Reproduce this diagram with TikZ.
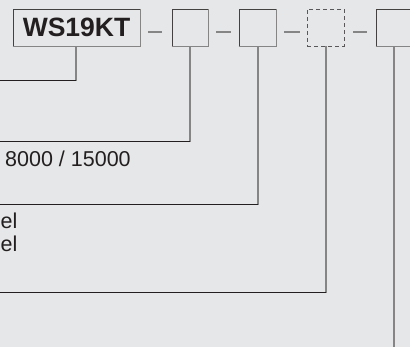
\documentclass[tikz,border=0pt]{standalone}
\usepackage{fontspec}
\setmainfont{Liberation Sans}
\definecolor{bg}{HTML}{E6E7E8}
\definecolor{ink}{HTML}{231F20}
\definecolor{vline}{HTML}{858585}
\tikzset{
  x=1pt, y=-1pt,
  codebox/.style={rectangle, draw=ink!85, line width=0.9pt, inner sep=0pt, minimum height=37pt},
  dashbox/.style={codebox, dashed, dash pattern=on 4pt off 3pt, draw=ink!75},
  shade/.style={draw=vline, line width=1.6pt},
  vconn/.style={draw=vline, line width=1.8pt},
  hconn/.style={draw=ink, line width=1pt},
  sep/.style={draw=vline, line width=1.6pt},
  lbl/.style={font=\fontsize{21.5}{23}\selectfont, text=ink, inner sep=0pt}
}
\begin{document}
\begin{tikzpicture}
\fill[bg] (0,0) rectangle (410,347);
\clip (0,0) rectangle (410,347);
\useasboundingbox (0,0) rectangle (410,347);

\node[codebox, minimum width=127pt, font=\fontsize{26.5}{28}\selectfont\bfseries, text=ink] (b1) at (76.5,27.5) {WS19KT};
\node[codebox, minimum width=36pt] (b2) at (190,27.5) {};
\node[codebox, minimum width=37pt] (b3) at (257.5,27.5) {};
\node[dashbox, minimum width=37pt] (b4) at (325.5,27.5) {};
\node[codebox, minimum width=37pt] (b5) at (394.5,27.5) {};

\foreach \n in {b1,b2,b3,b5}{
  \draw[shade] (\n.south west) -- (\n.south east) -- (\n.north east);
}

% separators
\coordinate (s1a) at (148,32); \coordinate (s1b) at (162,32);
\coordinate (s2a) at (216,32); \coordinate (s2b) at (231,32);
\coordinate (s3a) at (284,32); \coordinate (s3b) at (300,32);
\coordinate (s4a) at (353,32); \coordinate (s4b) at (367,32);
\draw[sep] (s1a) -- (s1b);
\draw[sep] (s2a) -- (s2b);
\draw[sep] (s3a) -- (s3b);
\draw[sep] (s4a) -- (s4b);

% connectors
\coordinate (c1) at (76,81);  \coordinate (e1) at (0,81);
\coordinate (c2) at (190,142); \coordinate (e2) at (0,142);
\coordinate (c3) at (258,205); \coordinate (e3) at (0,205);
\coordinate (c4) at (326,293); \coordinate (e4) at (0,293);
\coordinate (c5) at (394,347);

\draw[vconn] (b1.south -| c1) -- (c1);
\draw[hconn] (c1) -- (e1);
\draw[vconn] (b2.south -| c2) -- (c2);
\draw[hconn] (c2) -- (e2);
\draw[vconn] (b3.south -| c3) -- (c3);
\draw[hconn] (c3) -- (e3);
\draw[vconn] (b4.south -| c4) -- (c4);
\draw[hconn] (c4) -- (e4);
\draw[vconn] (b5.south -| c5) -- (c5);

% labels
\node[lbl, anchor=base west] (t1) at (5,167) {8000 / 15000};
\node[lbl, anchor=base west] (t2) at (0.5,229) {el};
\node[lbl, anchor=base west] (t3) at (0.5,252) {el};
\end{tikzpicture}
\end{document}
